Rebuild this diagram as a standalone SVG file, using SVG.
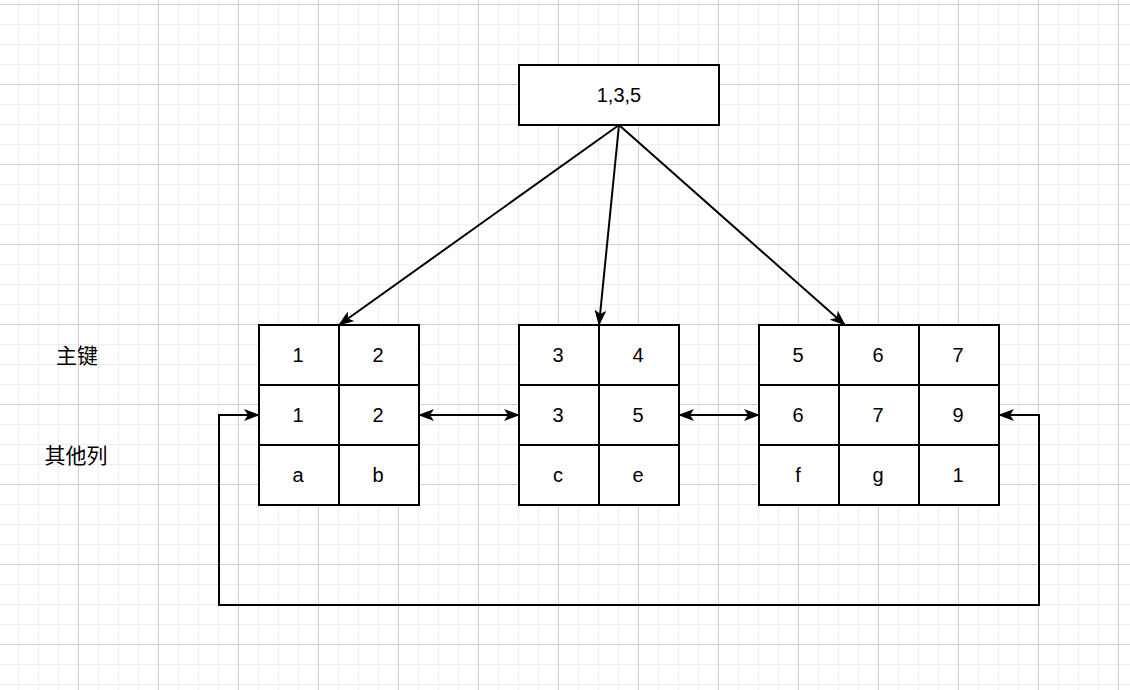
<svg xmlns="http://www.w3.org/2000/svg" width="1130" height="690" viewBox="0 0 1130 690">
<defs>
<pattern id="minor" x="-2" y="4" width="20" height="20" patternUnits="userSpaceOnUse"><path d="M0 0.5H20M0.5 0V20" stroke="#eeeeee" stroke-width="1" fill="none"/></pattern>
<pattern id="major" x="-2" y="4" width="80" height="80" patternUnits="userSpaceOnUse"><path d="M0 0.5H80M0.5 0V80" stroke="#d0d0d0" stroke-width="1" fill="none"/></pattern>
<marker id="a" viewBox="0 0 16 12" refX="15" refY="6" markerWidth="16" markerHeight="12" markerUnits="userSpaceOnUse" orient="auto-start-reverse"><path d="M0 0L16 6L0 12L4 6Z" fill="#000"/></marker>
</defs>
<style>
.c{fill:#fff;stroke:#000;stroke-width:2}
.t{font-family:"Liberation Sans",Arial,sans-serif;font-size:20px;text-anchor:middle;dominant-baseline:central;fill:#000}
.z{font-family:"Noto Sans CJK SC",sans-serif;font-size:21px;text-anchor:middle;dominant-baseline:central;fill:#000}
.l{stroke:#000;stroke-width:2;fill:none}
</style>
<rect width="1130" height="690" fill="#fff"/>
<rect width="1130" height="690" fill="url(#minor)"/>
<rect width="1130" height="690" fill="url(#major)"/>
<g id="root"><rect class="c" x="519" y="65" width="200" height="60"/><text class="t" x="619" y="95">1,3,5</text></g>
<g id="labels"><text class="z" x="77" y="354">主键</text><text class="z" x="76" y="454">其他列</text></g>
<g id="leaf1">
<rect class="c" x="259" y="325" width="80" height="60"/><rect class="c" x="339" y="325" width="80" height="60"/>
<rect class="c" x="259" y="385" width="80" height="60"/><rect class="c" x="339" y="385" width="80" height="60"/>
<rect class="c" x="259" y="445" width="80" height="60"/><rect class="c" x="339" y="445" width="80" height="60"/>
<text class="t" x="298" y="355">1</text><text class="t" x="378" y="355">2</text>
<text class="t" x="298" y="415">1</text><text class="t" x="378" y="415">2</text>
<text class="t" x="298" y="475">a</text><text class="t" x="378" y="475">b</text>
</g>
<g id="leaf2">
<rect class="c" x="519" y="325" width="80" height="60"/><rect class="c" x="599" y="325" width="80" height="60"/>
<rect class="c" x="519" y="385" width="80" height="60"/><rect class="c" x="599" y="385" width="80" height="60"/>
<rect class="c" x="519" y="445" width="80" height="60"/><rect class="c" x="599" y="445" width="80" height="60"/>
<text class="t" x="558" y="355">3</text><text class="t" x="638" y="355">4</text>
<text class="t" x="558" y="415">3</text><text class="t" x="638" y="415">5</text>
<text class="t" x="558" y="475">c</text><text class="t" x="638" y="475">e</text>
</g>
<g id="leaf3">
<rect class="c" x="759" y="325" width="80" height="60"/><rect class="c" x="839" y="325" width="80" height="60"/><rect class="c" x="919" y="325" width="80" height="60"/>
<rect class="c" x="759" y="385" width="80" height="60"/><rect class="c" x="839" y="385" width="80" height="60"/><rect class="c" x="919" y="385" width="80" height="60"/>
<rect class="c" x="759" y="445" width="80" height="60"/><rect class="c" x="839" y="445" width="80" height="60"/><rect class="c" x="919" y="445" width="80" height="60"/>
<text class="t" x="798" y="355">5</text><text class="t" x="878" y="355">6</text><text class="t" x="958" y="355">7</text>
<text class="t" x="798" y="415">6</text><text class="t" x="878" y="415">7</text><text class="t" x="958" y="415">9</text>
<text class="t" x="798" y="475">f</text><text class="t" x="878" y="475">g</text><text class="t" x="958" y="475">1</text>
</g>
<g id="connectors">
<line class="l" x1="619" y1="125" x2="339" y2="325" marker-end="url(#a)"/>
<line class="l" x1="619" y1="125" x2="599" y2="325" marker-end="url(#a)"/>
<line class="l" x1="619" y1="125" x2="845" y2="325" marker-end="url(#a)"/>
<line class="l" x1="419" y1="415" x2="519" y2="415" marker-start="url(#a)" marker-end="url(#a)"/>
<line class="l" x1="679" y1="415" x2="759" y2="415" marker-start="url(#a)" marker-end="url(#a)"/>
<path class="l" d="M999 415H1039V605H219V415H259" marker-start="url(#a)" marker-end="url(#a)"/>
</g>
</svg>
